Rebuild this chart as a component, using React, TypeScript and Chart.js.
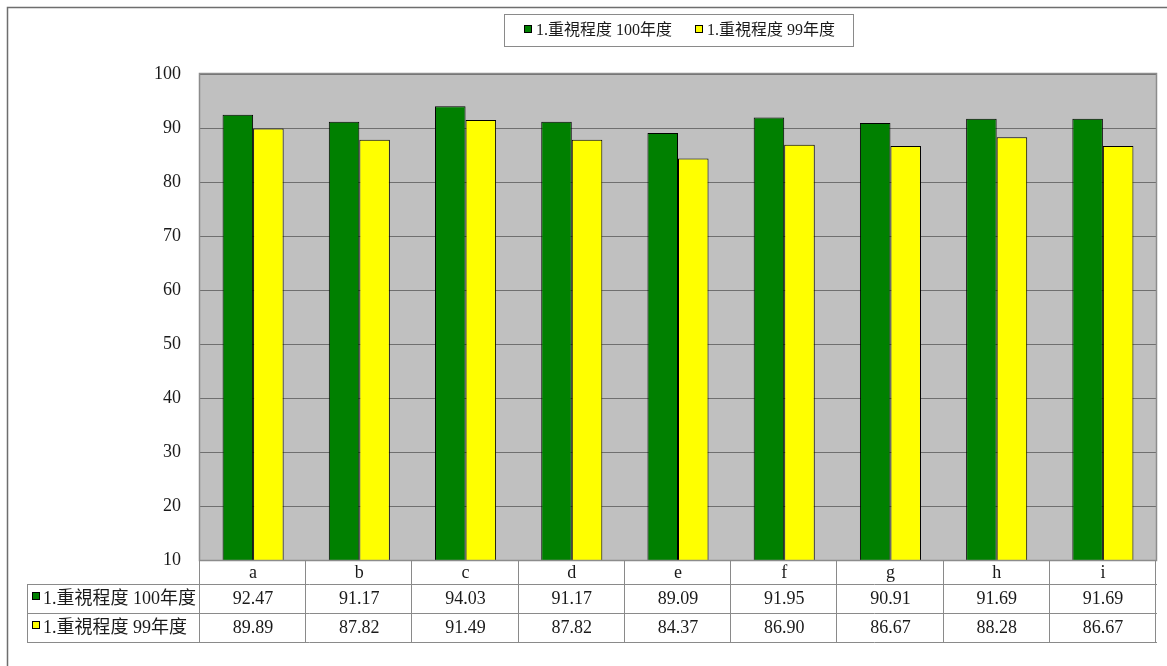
import React, { useEffect, useRef } from "react";
import { Chart, registerables } from "chart.js";

Chart.register(...registerables);

const categories = ["a", "b", "c", "d", "e", "f", "g", "h", "i"];
const seriesNames = ["1.重視程度 100年度", "1.重視程度 99年度"];
const values100 = [92.47, 91.17, 94.03, 91.17, 89.09, 91.95, 90.91, 91.69, 91.69];
const values99 = [89.89, 87.82, 91.49, 87.82, 84.37, 86.9, 86.67, 88.28, 86.67];
const seriesColors = ["#008000", "#FFFF00"];
const yMin = 10;
const yMax = 100;
const yStep = 10;

const FONT_FAMILY = '"Liberation Serif", "Noto Sans CJK TC", serif';

const tablePlugin = {
  id: "excelTable",
  beforeDraw(chart: any) {
    const ctx = chart.ctx;
    const a = chart.chartArea;
    ctx.save();
    ctx.fillStyle = "#ffffff";
    ctx.fillRect(0, 0, chart.width, chart.height);
    // outer frame
    ctx.strokeStyle = "#6e6e6e";
    ctx.lineWidth = 1.5;
    ctx.beginPath();
    ctx.moveTo(7.5, chart.height);
    ctx.lineTo(7.5, 7.5);
    ctx.lineTo(chart.width, 7.5);
    ctx.stroke();
    // plot background
    ctx.fillStyle = "#C0C0C0";
    ctx.fillRect(a.left, a.top, a.right - a.left, a.bottom - a.top);
    ctx.restore();
  },
  afterDraw(chart: any) {
    const ctx = chart.ctx;
    const a = chart.chartArea;
    const xs = chart.scales.x;
    const n = categories.length;
    const catW = (a.right - a.left) / n;
    ctx.save();
    // plot border
    ctx.strokeStyle = "#8c8c8c";
    ctx.lineWidth = 1.5;
    ctx.strokeRect(a.left - 0.5, a.top - 0.5, a.right - a.left + 1, a.bottom - a.top + 1);

    // data table
    const rows = [a.bottom, a.bottom + 24, a.bottom + 53, a.bottom + 82];
    const tableLeft = 27;
    ctx.strokeStyle = "#8a8a8a";
    ctx.lineWidth = 1;
    ctx.beginPath();
    for (let r = 1; r < rows.length; r++) {
      ctx.moveTo(tableLeft, Math.round(rows[r]) + 0.5);
      ctx.lineTo(a.right + 1, Math.round(rows[r]) + 0.5);
    }
    for (let k = 0; k <= n; k++) {
      const x = Math.round(a.left + k * catW) - 0.5;
      ctx.moveTo(x, rows[0]);
      ctx.lineTo(x, rows[3] + 1);
    }
    ctx.moveTo(tableLeft + 0.5, rows[1]);
    ctx.lineTo(tableLeft + 0.5, rows[3] + 1);
    ctx.stroke();

    ctx.fillStyle = "#1a1a1a";
    ctx.font = "18px " + FONT_FAMILY;
    ctx.textBaseline = "middle";
    ctx.textAlign = "center";
    categories.forEach((c, i) => {
      const x = xs.getPixelForValue(i);
      ctx.fillText(c, x, (rows[0] + rows[1]) / 2 + 1);
    });
    const series = [values100, values99];
    series.forEach((vals, s) => {
      const yMid = (rows[s + 1] + rows[s + 2]) / 2 + 1;
      ctx.textAlign = "center";
      ctx.fillStyle = "#1a1a1a";
      vals.forEach((v, i) => {
        ctx.fillText(v.toFixed(2), xs.getPixelForValue(i), yMid);
      });
      // row header
      ctx.fillStyle = seriesColors[s];
      ctx.fillRect(32, rows[s + 1] + 8, 8, 8);
      ctx.strokeStyle = "#000";
      ctx.strokeRect(32.5, rows[s + 1] + 8.5, 7, 7);
      ctx.fillStyle = "#1a1a1a";
      ctx.textAlign = "left";
      ctx.fillText(seriesNames[s], 43, yMid);
    });

    // legend
    ctx.strokeStyle = "#8a8a8a";
    ctx.lineWidth = 1;
    ctx.strokeRect(504.5, 14.5, 349, 32);
    ctx.font = "16px " + FONT_FAMILY;
    ctx.textAlign = "left";
    let lx = 524;
    seriesNames.forEach((name, s) => {
      ctx.fillStyle = seriesColors[s];
      ctx.fillRect(lx, 25, 8, 8);
      ctx.strokeStyle = "#000";
      ctx.strokeRect(lx + 0.5, 25.5, 7, 7);
      ctx.fillStyle = "#1a1a1a";
      ctx.fillText(name, lx + 12, 31);
      lx += 12 + ctx.measureText(name).width + 23;
    });
    ctx.restore();
  },
};

export default function App() {
  const ref = useRef<HTMLCanvasElement | null>(null);
  useEffect(() => {
    if (!ref.current) return;
    const chart = new Chart(ref.current, {
      type: "bar",
      data: {
        labels: categories,
        datasets: [
          {
            label: seriesNames[0],
            data: values100,
            backgroundColor: seriesColors[0],
            borderColor: "#000000",
            borderWidth: 1,
            categoryPercentage: 0.575,
            barPercentage: 1,
          },
          {
            label: seriesNames[1],
            data: values99,
            backgroundColor: seriesColors[1],
            borderColor: "#000000",
            borderWidth: 1,
            categoryPercentage: 0.575,
            barPercentage: 1,
          },
        ],
      },
      options: {
        responsive: false,
        maintainAspectRatio: false,
        animation: false,
        devicePixelRatio: 1,
        layout: { padding: { top: 74, right: 11, bottom: 106, left: 0 } },
        plugins: {
          legend: { display: false },
          tooltip: { enabled: false },
        },
        scales: {
          x: { display: false },
          y: {
            min: yMin,
            max: yMax,
            afterFit: (s: any) => {
              s.width = 200;
            },
            ticks: {
              stepSize: yStep,
              padding: 19,
              color: "#1a1a1a",
              font: { family: FONT_FAMILY, size: 18 },
            },
            grid: { color: "#6f6f6f", lineWidth: 1, drawTicks: false },
            border: { display: false },
          },
        },
      },
      plugins: [tablePlugin],
    });
    return () => chart.destroy();
  }, []);
  return (
    <div style={{ position: "absolute", left: 0, top: 0, width: 1167, height: 666 }}>
      <canvas ref={ref} width={1167} height={666} style={{ width: 1167, height: 666 }} />
    </div>
  );
}
